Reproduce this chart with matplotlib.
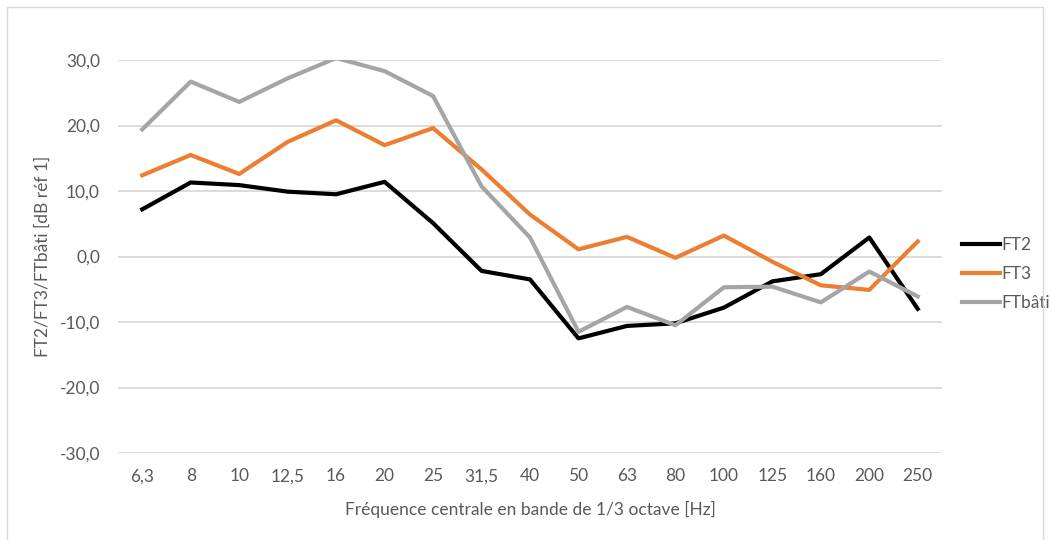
import matplotlib
matplotlib.use('Agg')
import matplotlib.pyplot as plt
from matplotlib.patches import Rectangle

freq_labels = ['6,3', '8', '10', '12,5', '16', '20', '25', '31,5', '40', '50',
               '63', '80', '100', '125', '160', '200', '250']
ft2 = [7.2, 11.3, 10.9, 9.9, 9.5, 11.4, 5.1, -2.2, -3.5, -12.5,
       -10.6, -10.2, -7.8, -3.8, -2.7, 2.9, -8.0]
ft3 = [12.4, 15.5, 12.6, 17.5, 20.8, 17.0, 19.6, 13.3, 6.4, 1.1,
       3.0, -0.2, 3.2, -0.8, -4.4, -5.1, 2.3]
ftbati = [19.4, 26.7, 23.6, 27.2, 30.3, 28.3, 24.5, 10.7, 2.9, -11.5,
          -7.7, -10.5, -4.7, -4.6, -7.0, -2.3, -6.1]
yticks = [-30, -20, -10, 0, 10, 20, 30]

text_color = '#595959'
fs = 12.5
plt.rcParams['font.family'] = ['Lato', 'DejaVu Sans']

fig = plt.figure(figsize=(10.5, 5.4), dpi=100)
ax = fig.add_axes([118 / 1050, 1 - 453 / 540, 824 / 1050, 393 / 540])

x = list(range(len(freq_labels)))
ax.plot(x, ft2, color='#000000', lw=3, label='FT2', solid_joinstyle='round')
ax.plot(x, ft3, color='#ED7D31', lw=3, label='FT3', solid_joinstyle='round')
ax.plot(x, ftbati, color='#A5A5A5', lw=3, label='FTbâti', solid_joinstyle='round')

ax.set_xlim(-0.5, len(freq_labels) - 0.5)
ax.set_ylim(-30, 30)
ax.set_xticks(x)
ax.set_xticklabels(freq_labels)
ax.set_yticks(yticks)
ax.set_yticklabels([('%.1f' % v).replace('.', ',') for v in yticks])
ax.tick_params(length=0, labelsize=fs, labelcolor=text_color)
ax.tick_params(axis='x', pad=11)
ax.tick_params(axis='y', pad=13)
ax.grid(axis='y', color='#d9d9d9', lw=1.3)
ax.set_axisbelow(True)
for s in ax.spines.values():
    s.set_visible(False)

ax.set_xlabel('Fréquence centrale en bande de 1/3 octave [Hz]', fontsize=fs,
              color=text_color, labelpad=12)
ax.set_ylabel('FT2/FT3/FTbâti [dB réf 1]', fontsize=fs, color=text_color,
              labelpad=6)

ax.legend(loc='center left', bbox_to_anchor=(953 / 1050, 1 - 274 / 540),
          bbox_transform=fig.transFigure, frameon=False, fontsize=fs,
          handlelength=2.2, handletextpad=0.1, labelspacing=0.75,
          borderpad=0, labelcolor=text_color)

fig.patches.append(Rectangle((7 / 1050, -0.01), 1036 / 1050, 1 - 7 / 540 + 0.01,
                             transform=fig.transFigure, fill=False,
                             edgecolor='#d9d9d9', lw=1))

fig.savefig('out.png', dpi=100)
